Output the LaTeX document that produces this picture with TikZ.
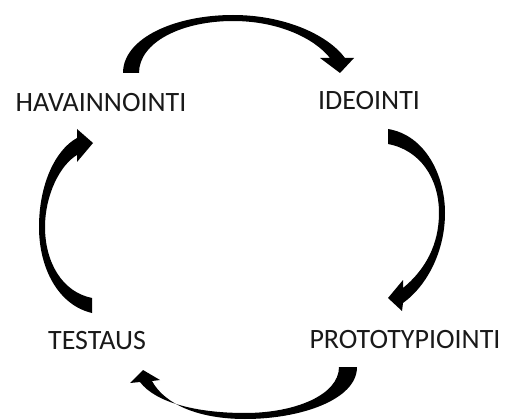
\documentclass[tikz,border=0pt]{standalone}
\usepackage{fontspec}
\setmainfont{Carlito}
\begin{document}
\begin{tikzpicture}[x=1pt,y=-1pt,
  lbl/.style={inner sep=0pt, font=\fontsize{28}{30}\selectfont, text=black!90},
  carrow/.style={fill=black, draw=none}]
\useasboundingbox (0,0) rectangle (507,420);
% labels
\node[lbl] (hav) at (101,102.5) {HAVAINNOINTI};
\node[lbl] (ide) at (369,101) {IDEOINTI};
\node[lbl] (tes) at (97,341) {TESTAUS};
\node[lbl] (pro) at (405,340) {PROTOTYPIOINTI};
% top arrow: HAVAINNOINTI -> IDEOINTI
\fill[carrow] (123,73) .. controls (123,38) and (175,15) .. (233,15)
  .. controls (285,15) and (328,35) .. (345,58)
  -- (354,58) -- (340,73) -- (320,58) -- (330,58)
  .. controls (314,38) and (278,21) .. (233,21)
  .. controls (182,21) and (139,42) .. (139,73) -- cycle;
% right arrow: IDEOINTI -> PROTOTYPIOINTI
\fill[carrow] (388,129) .. controls (425,135) and (445,175) .. (445,213)
  .. controls (445,250) and (428,285) .. (403,303)
  -- (402,311) -- (388,298) -- (403,280) -- (403,288)
  .. controls (425,270) and (439,245) .. (439,213)
  .. controls (439,178) and (420,150) .. (388,144) -- cycle;
% bottom arrow: PROTOTYPIOINTI -> TESTAUS
\fill[carrow] (357,367) .. controls (357,400) and (300,419) .. (245,419)
  .. controls (200,419) and (165,405) .. (152,381)
  -- (160,380) -- (143,370) -- (130,383) -- (140,382)
  .. controls (155,402) and (195,413) .. (245,413)
  .. controls (295,413) and (339,395) .. (339,367) -- cycle;
% left arrow: TESTAUS -> HAVAINNOINTI
\fill[carrow] (92,313) .. controls (58,305) and (39,268) .. (39,227)
  .. controls (39,185) and (55,150) .. (77,138)
  -- (77,129) -- (93,143) -- (77,162) -- (77,155)
  .. controls (60,165) and (45,195) .. (45,227)
  .. controls (45,262) and (62,292) .. (92,298) -- cycle;
\end{tikzpicture}
\end{document}
